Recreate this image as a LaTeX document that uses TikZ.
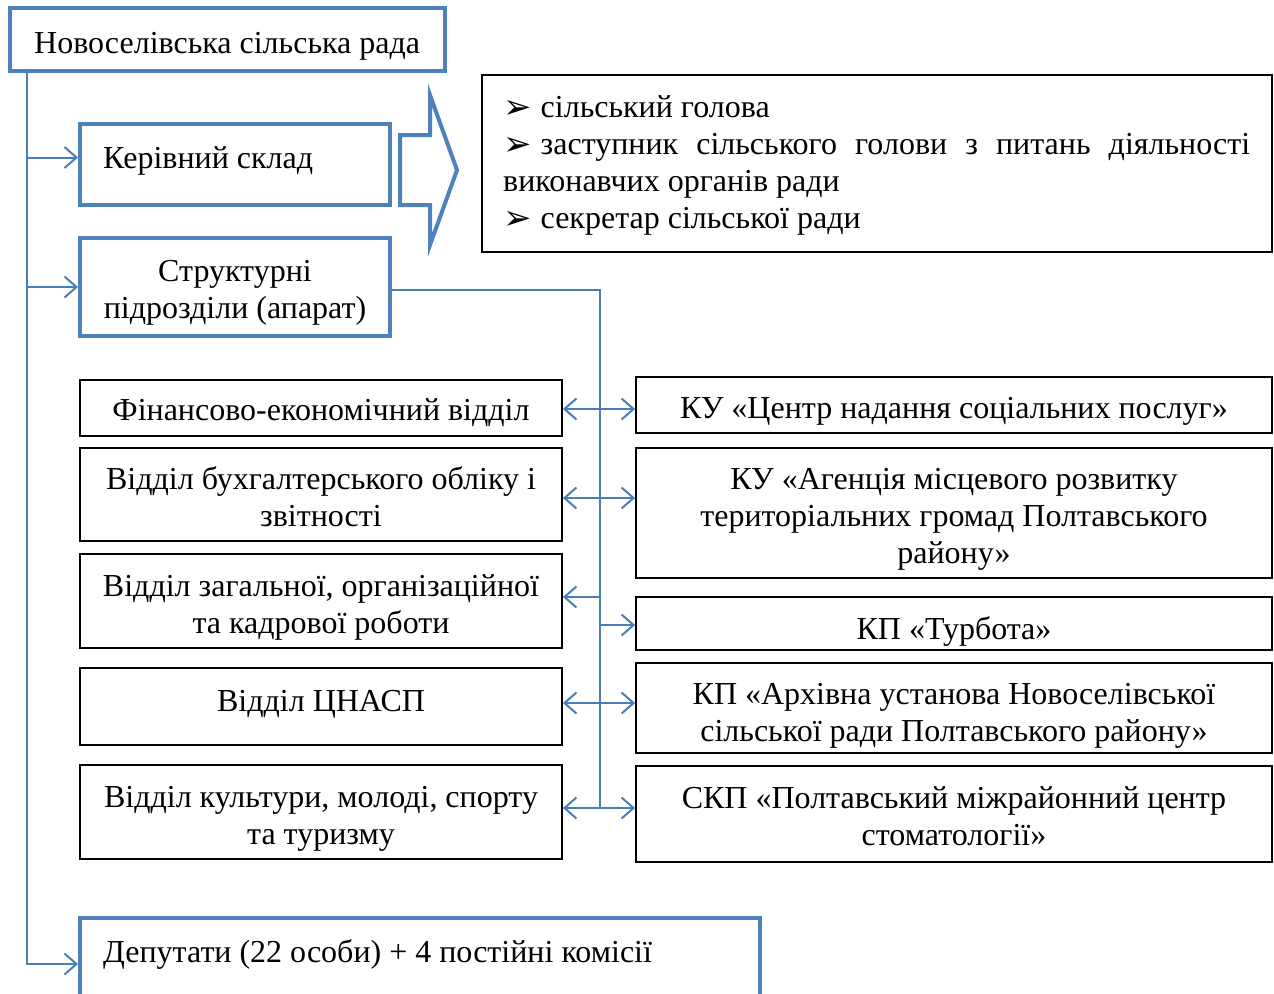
\documentclass[tikz,border=0pt]{standalone}
\usepackage{fontspec}
\setmainfont{Liberation Serif}
\newfontfamily\dejavu{DejaVu Sans}
\usetikzlibrary{arrows.meta}
\definecolor{bluebox}{RGB}{79,129,189}
\definecolor{blueline}{RGB}{74,126,187}
\newcommand\bul{\raisebox{-1pt}{\dejavu\fontsize{34}{37}\selectfont ➢}\hspace{9pt}}
\begin{document}
\begin{tikzpicture}[x=1pt,y=-1pt,
  font=\fontsize{32}{37}\selectfont,
  bbox/.style={draw=bluebox, line width=4pt, inner sep=0pt, fill=white},
  kbox/.style={draw=black, line width=1.8pt, inner sep=0pt},
  plain/.style={inner sep=0pt, align=center, yshift=-4pt},
  conn/.style={draw=blueline, line width=2pt},
  tipA/.style={-{Straight Barb[length=12pt,width=21pt]}},
  tipB/.style={{Straight Barb[length=12pt,width=21pt]}-{Straight Barb[length=12pt,width=21pt]}}]
\useasboundingbox (0,0) rectangle (1274,993);
% top
\node[bbox, minimum width=435pt, minimum height=63pt] (top) at (227.5,39.5) {};
\node[plain, anchor=west] (toptxt) at (34,42) {Новоселівська сільська рада};
% kerivnyi
\node[bbox, minimum width=310pt, minimum height=81pt] (ker) at (235,164.5) {};
\node[plain, anchor=west] (kertxt) at (103,157) {Керівний склад};
% structural
\node[bbox, minimum width=310pt, minimum height=98pt] (str) at (235,287) {};
\node[plain] (strtxt) at (235,289) {Структурні\\підрозділи (апарат)};
% big hollow arrow
\draw[draw=bluebox, line width=4pt, line join=miter] (400,135) -- (430,135) -- (430,95) -- (457,170) -- (430,245) -- (430,205) -- (400,205) -- cycle;
% right panel
\node[kbox, minimum width=790pt, minimum height=177pt] (panel) at (877,163.5) {};
\node[anchor=north west, text width=747pt, align=justify, inner sep=0pt] (paneltxt) at (503,95)
  {\bul сільський голова\par
   \bul заступник сільського голови з питань діяльності\linebreak виконавчих органів ради\par
   \bul секретар сільської ради};
% left column
\node[kbox, minimum width=482pt, minimum height=56pt] (l1) at (321,408) {};
\node[plain] (l1t) at (321,409) {Фінансово-економічний відділ};
\node[kbox, minimum width=482pt, minimum height=93pt] (l2) at (321,494.5) {};
\node[plain] (l2t) at (321,492.5) {Відділ бухгалтерського обліку і\\звітності};
\node[kbox, minimum width=482pt, minimum height=94pt] (l3) at (321,601) {};
\node[plain] (l3t) at (321,603) {Відділ загальної, організаційної\\та кадрової роботи};
\node[kbox, minimum width=482pt, minimum height=77pt] (l4) at (321,706.5) {};
\node[plain] (l4t) at (321,700) {Відділ ЦНАСП};
\node[kbox, minimum width=482pt, minimum height=94pt] (l5) at (321,812) {};
\node[plain] (l5t) at (321,815) {Відділ культури, молоді, спорту\\та туризму};
% right column
\node[kbox, minimum width=636pt, minimum height=56pt] (r1) at (954,405) {};
\node[plain] (r1t) at (954,407) {КУ «Центр надання соціальних послуг»};
\node[kbox, minimum width=636pt, minimum height=130pt] (r2) at (954,513) {};
\node[plain] (r2t) at (954,515) {КУ «Агенція місцевого розвитку\\територіальних громад Полтавського\\району»};
\node[kbox, minimum width=636pt, minimum height=53pt] (r3) at (954,623.5) {};
\node[plain] (r3t) at (954,627) {КП «Турбота»};
\node[kbox, minimum width=636pt, minimum height=90pt] (r4) at (954,708) {};
\node[plain] (r4t) at (954,712) {КП «Архівна установа Новоселівської\\сільської ради Полтавського району»};
\node[kbox, minimum width=636pt, minimum height=96pt] (r5) at (954,814) {};
\node[plain] (r5t) at (954,812.5) {СКП «Полтавський міжрайонний центр\\стоматології»};
% deputies
\node[bbox, minimum width=680pt, minimum height=92pt] (dep) at (420,964) {};
\node[plain, anchor=west] (deptxt) at (103,950) {Депутати (22 особи) + 4 постійні комісії};
% connectors
\coordinate (spine) at (27,71);
\draw[conn, tipA] (spine) |- ([yshift=7pt]ker.west);
\draw[conn, tipA] (spine) |- (str.west);
\draw[conn, tipA] (spine) |- (dep.west);
\coordinate (busend) at (600,808);
\draw[conn] ([yshift=-3pt]str.east) -| (busend);
\coordinate (y1) at (0,409);
\coordinate (y2) at (0,498);
\coordinate (y4) at (0,703);
\coordinate (y5) at (0,808);
\coordinate (b3a) at (600,597);
\coordinate (b3b) at (600,625);
\draw[conn, tipB] (l1.east |- y1) -- (r1.west |- y1);
\draw[conn, tipB] (l2.east |- y2) -- (r2.west |- y2);
\draw[conn, tipA] (b3a) -- (l3.east |- b3a);
\draw[conn, tipA] (b3b) -- (r3.west |- b3b);
\draw[conn, tipB] (l4.east |- y4) -- (r4.west |- y4);
\draw[conn, tipB] (l5.east |- y5) -- (r5.west |- y5);
\end{tikzpicture}
\end{document}
